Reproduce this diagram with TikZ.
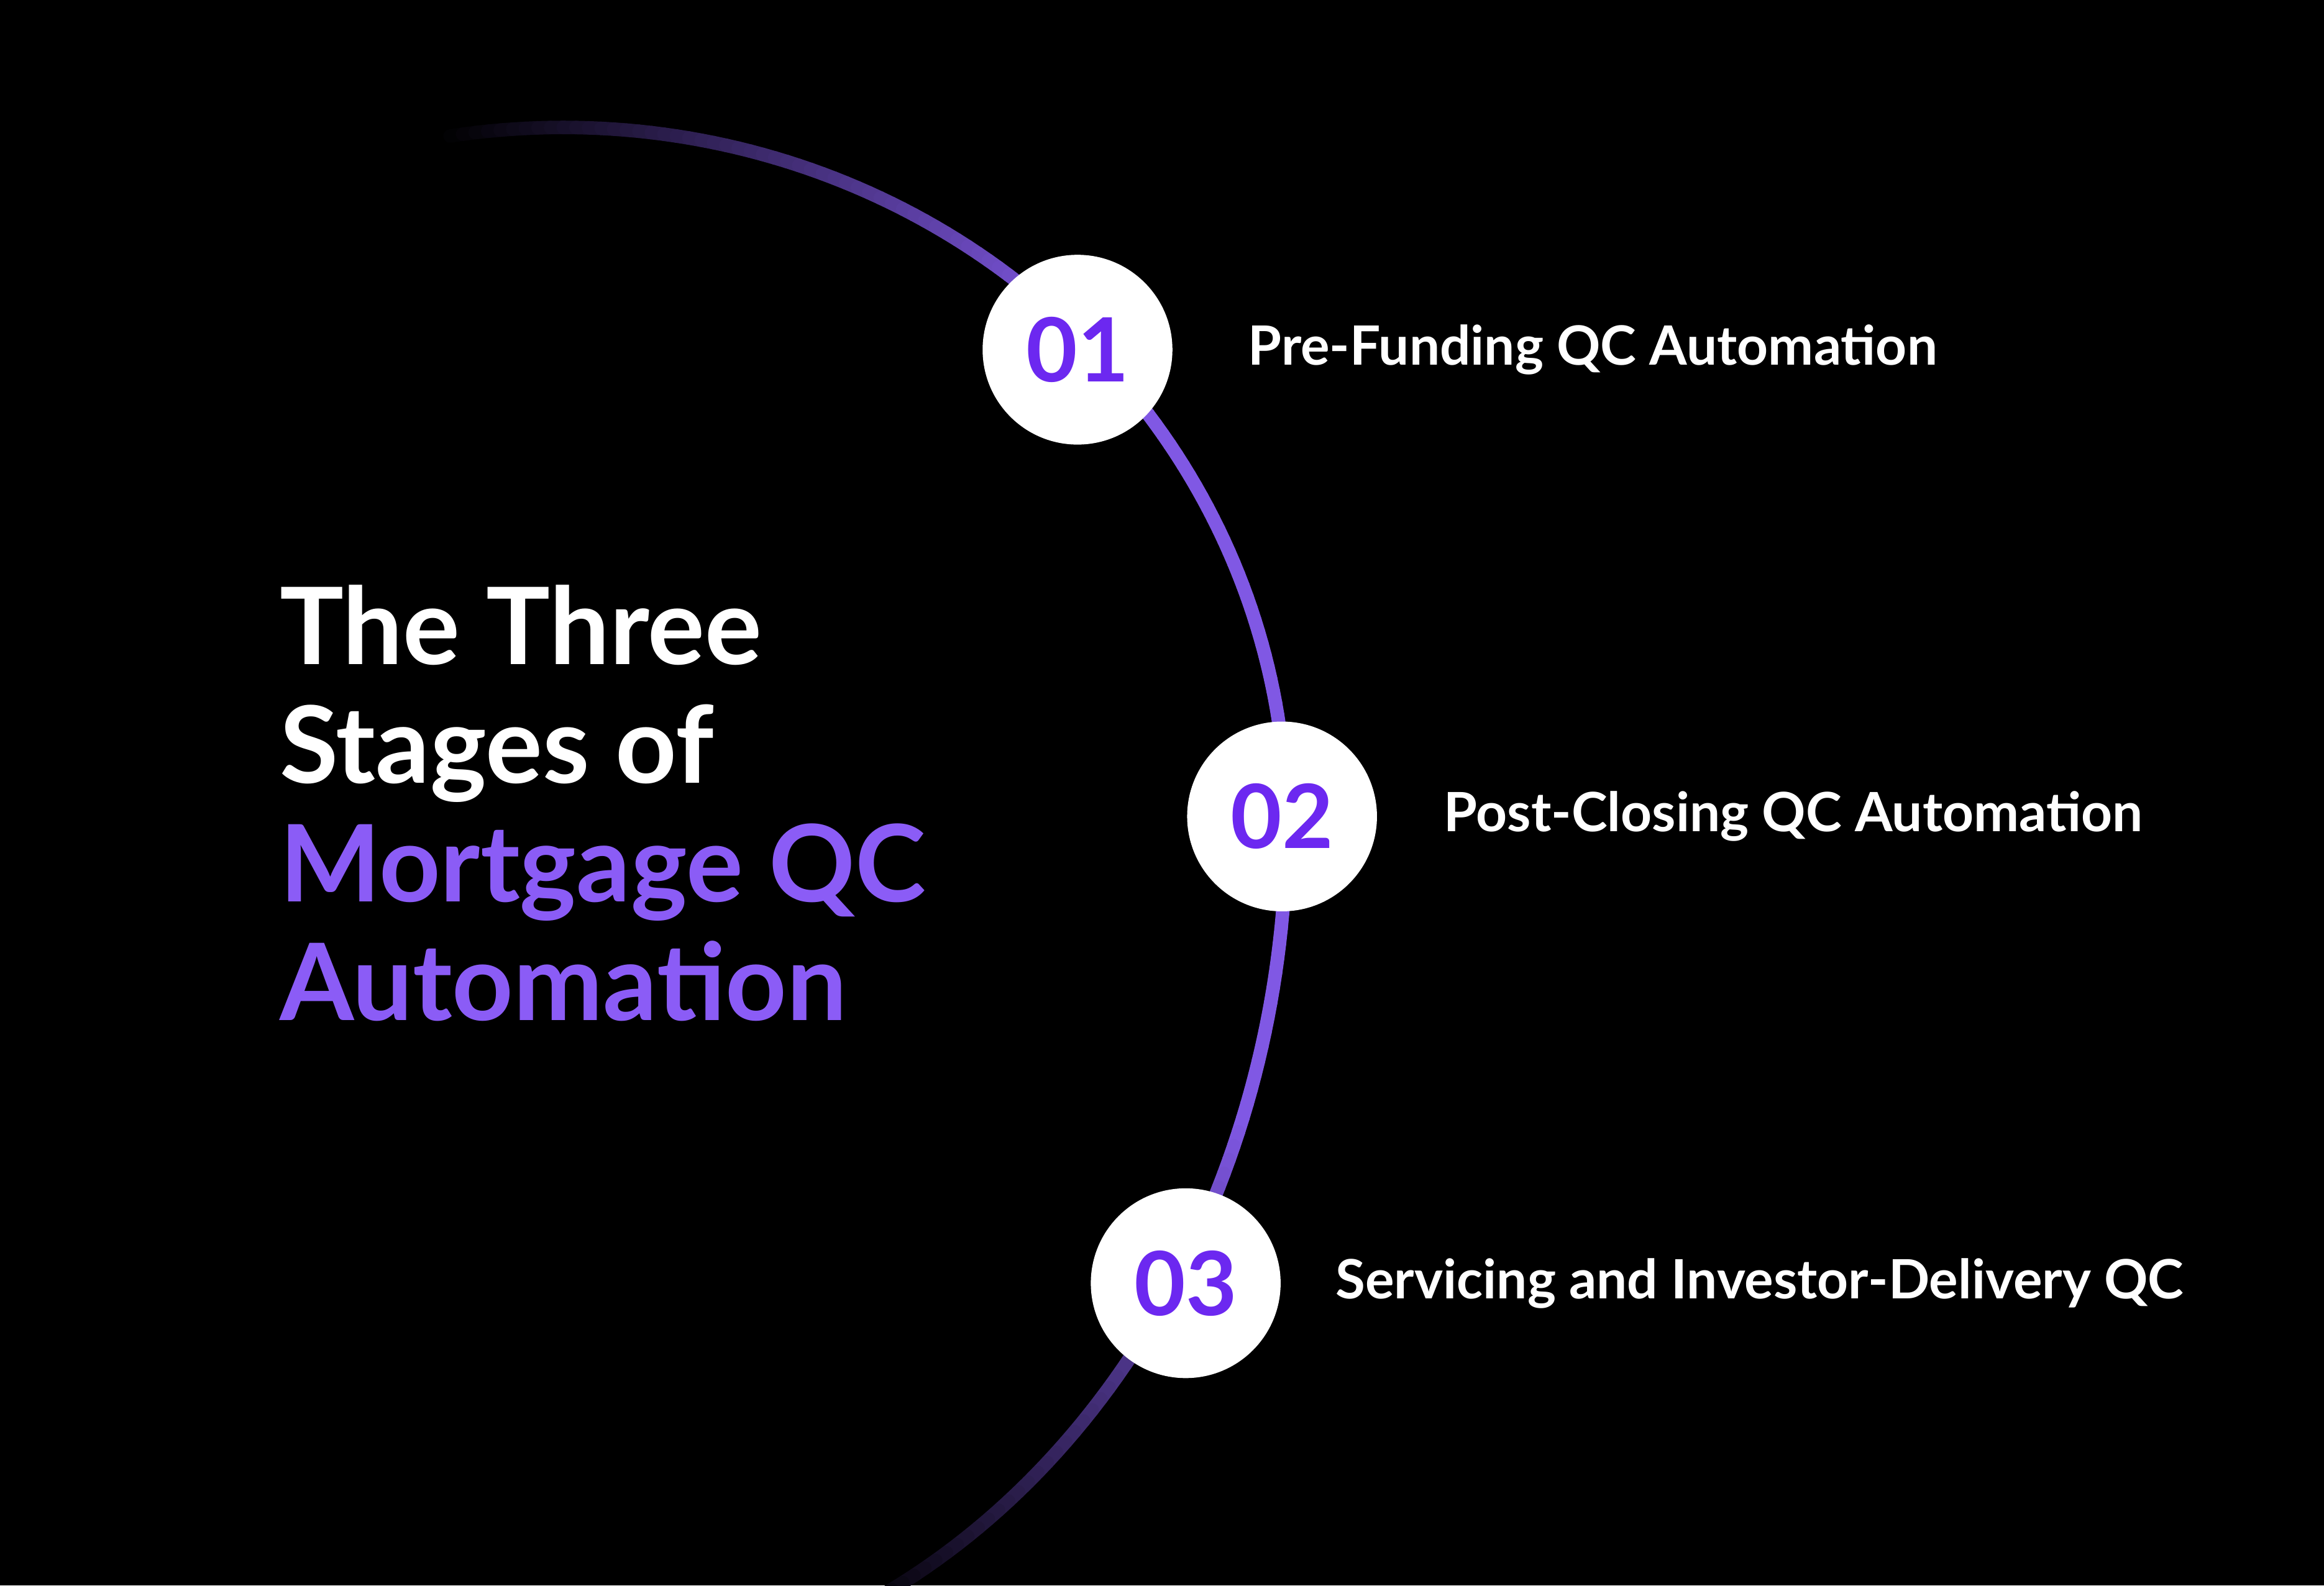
\documentclass[tikz,border=0pt]{standalone}
\usepackage{fontspec}
\setmainfont{Lato}
\usetikzlibrary{positioning}
\definecolor{arcpurple}{RGB}{128,88,228}
\definecolor{titlepurple}{RGB}{139,92,246}
\definecolor{numpurple}{RGB}{108,40,240}

\tikzset{
  stage/.style={circle, fill=white, minimum size=1.28cm, inner sep=0pt,
    font=\fontsize{17}{17}\selectfont\bfseries, text=numpurple},
  stagelabel/.style={anchor=west, text=white, font=\fontsize{10.4}{12}\selectfont\bfseries},
}

\begin{document}
\begin{tikzpicture}[x=0.01cm, y=-0.01cm]
    % background
    \fill[black] (0,0) rectangle (1568,1070);
    \useasboundingbox (0,0) rectangle (1568,1070);

    % fading arc
    \foreach \t in {-100,-99,...,66} {
        \pgfmathsetmacro\r{\t<0 ? 470 : 580}
        \pgfmathsetmacro\rr{\t+1<0 ? 470 : 580}
        \pgfmathsetmacro\k{max(0,min(100,(\t+100)*1.82,(66-\t)*2.17))}
        \draw[line width=2.6pt, line cap=round, arcpurple!\k!black]
            ({380+488*cos(\t)},{556+\r*sin(\t)}) -- ({380+488*cos(\t+1)},{556+\rr*sin(\t+1)});
    }

    % stages
    \node[stage] (n1) at (727,236) {01};
    \node[stage] (n2) at (865,551) {02};
    \node[stage] (n3) at (800,866) {03};

    \node[stagelabel, right=0.38cm of n1] (l1) {Pre-Funding QC Automation};
    \node[stagelabel, right=0.32cm of n2] (l2) {Post-Closing QC Automation};
    \node[stagelabel, right=0.24cm of n3] (l3) {Servicing and Investor-Delivery QC};

    % title
    \node[anchor=west, align=left, inner sep=0pt, font=\fontsize{20.5}{22.8}\selectfont\bfseries, text=white] (title) at (188,542)
        {The Three\\Stages of\\\textcolor{titlepurple}{Mortgage QC}\\\textcolor{titlepurple}{Automation}};
\end{tikzpicture}
\end{document}
